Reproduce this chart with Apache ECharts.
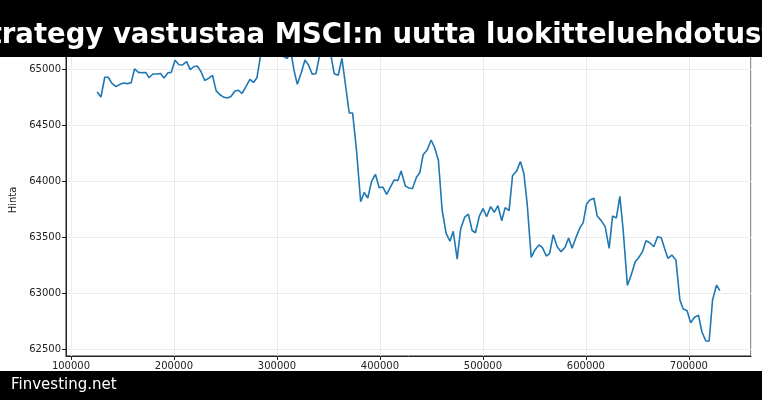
<!DOCTYPE html>
<html>
<head>
<meta charset="utf-8">
<script src="https://cdn.jsdelivr.net/npm/echarts@6/dist/echarts.min.js"></script>
<style>
html,body{margin:0;padding:0;background:#fff;}
#chart{width:762px;height:400px;}
</style>
</head>
<body>
<div id="chart"></div>
<script>
const titleText = "Strategy vastustaa MSCI:n uutta luokitteluehdotusta";
const footerText = "Finvesting.net";
const yAxisName = "Hinta";
const xs = [125400,129100,132800,136200,139800,143700,147600,151200,154700,158500,
161700,165500,169400,172800,175700,179600,183500,186900,190300,194200,
197400,201000,204900,208300,212300,215800,219100,222600,226200,229900,
234000,237400,241000,244700,248500,251900,255300,259200,262600,266000,
269900,273800,277200,280600,284200,287400,291300,295100,299000,302900,
306500,310000,313600,316500,319800,323500,327200,330600,334300,337900,
341300,344700,348500,351900,355600,359500,363100,366700,370200,373500,
377400,381300,384700,388200,391900,395600,399300,402900,406500,410100,
413800,417400,420600,424700,427900,431600,435600,438800,442000,445900,
449700,453100,456800,460400,464300,468000,471200,475000,478400,482300,
485900,489500,492700,496600,500200,503600,507500,511200,514600,518300,
521600,525400,528800,532700,536400,539800,543000,546900,550500,554400,
557700,561600,564800,568300,572100,575900,579800,583200,586600,590300,
594200,597400,600700,603900,607800,611000,614900,618700,622600,625900,
629600,633000,636200,640300,644000,647900,651200,655000,658300,662100,
666000,669600,673100,676400,679600,683500,687400,691300,694500,698300,
701700,705500,709400,712600,716500,719700,723000,726900,730100];
const ys = [64795,64750,64926,64926,64872,64842,64863,64875,64869,64878,
65000,64970,64967,64967,64922,64955,64955,64960,64920,64966,
64970,65078,65038,65036,65065,64994,65020,65027,64978,64897,
64918,64944,64805,64770,64747,64741,64754,64804,64810,64781,
64842,64908,64880,64922,65125,65170,65195,65165,65205,65180,
65112,65094,65150,64991,64863,64964,65080,65036,64953,64958,
65116,65170,65200,65150,64958,64944,65094,64848,64607,64607,
64259,63815,63897,63848,63996,64060,63940,63946,63880,63942,
64009,64005,64089,63955,63938,63933,64036,64076,64235,64277,
64366,64299,64183,63741,63533,63462,63551,63302,63573,63677,
63704,63558,63538,63689,63753,63681,63771,63721,63779,63645,
63762,63735,64049,64088,64174,64067,63795,63319,63384,63429,
63408,63330,63354,63520,63413,63369,63408,63491,63399,63494,
63583,63628,63795,63830,63846,63687,63646,63592,63399,63687,
63670,63862,63562,63067,63161,63279,63315,63369,63467,63449,
63413,63503,63494,63399,63310,63339,63295,62937,62857,62842,
62735,62783,62801,62654,62571,62571,62937,63071,63021];

const seriesData = xs.map((x, i) => [x, ys[i]]);
const chart = echarts.init(document.getElementById('chart'), null, {renderer: 'canvas'});
const font = '"DejaVu Sans", sans-serif';
chart.setOption({
  animation: false,
  backgroundColor: '#ffffff',
  grid: {left: 66, right: 11, top: 44, bottom: 44, show: true, borderColor: '#222', borderWidth: 1, backgroundColor: 'transparent'},
  xAxis: {
    type: 'value', min: 95165, max: 760335,
    axisLine: {show: true, lineStyle: {color: '#222', width: 1}},
    axisTick: {show: true, length: 4, lineStyle: {color: '#222'}},
    axisLabel: {color: '#222', fontSize: 10, fontFamily: font, margin: 5, showMinLabel: false, showMaxLabel: false, formatter: v => String(v)},
    splitLine: {show: true, lineStyle: {color: '#ebebeb', width: 1}}
  },
  yAxis: {
    type: 'value', min: 62437.5, max: 65223, scale: true,
    name: yAxisName, nameLocation: 'middle', nameGap: 42, nameRotate: 90,
    nameTextStyle: {color: '#222', fontSize: 10, fontFamily: font},
    axisLine: {show: true, lineStyle: {color: '#222', width: 1}},
    axisTick: {show: true, length: 4, lineStyle: {color: '#222'}},
    axisLabel: {color: '#222', fontSize: 10, fontFamily: font, margin: 5, showMinLabel: false, showMaxLabel: false, formatter: v => String(v)},
    splitLine: {show: true, lineStyle: {color: '#ebebeb', width: 1}}
  },
  series: [{
    type: 'line', data: seriesData, showSymbol: false, symbol: 'none', clip: false,
    lineStyle: {color: '#1f77b4', width: 1.6}, z: 3
  }],
  graphic: [
    {type: 'rect', z: 100, shape: {x: 0, y: 0, width: 762, height: 57}, style: {fill: '#000'}},
    {type: 'text', z: 101, x: 381, y: 35.5, style: {text: titleText, fill: '#fff', font: 'bold 27.5px "DejaVu Sans"', textAlign: 'center', textVerticalAlign: 'middle'}},
    {type: 'rect', z: 100, shape: {x: 0, y: 371, width: 762, height: 29}, style: {fill: '#000'}},
    {type: 'text', z: 101, x: 11, y: 385.5, style: {text: footerText, fill: '#fff', font: '15px "DejaVu Sans"', textAlign: 'left', textVerticalAlign: 'middle'}}
  ]
});
</script>
</body>
</html>
